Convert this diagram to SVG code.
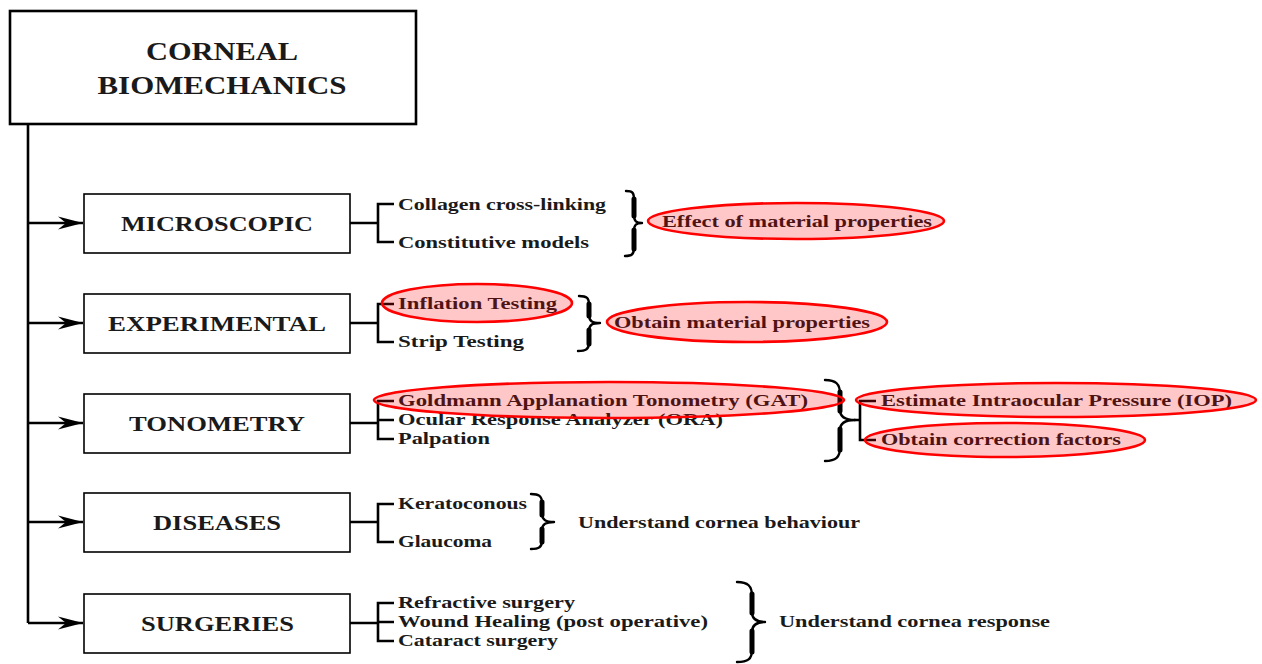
<svg xmlns="http://www.w3.org/2000/svg" width="1262" height="664" viewBox="0 0 1262 664">
<defs>
<style>
.box{fill:#fff;stroke:#000;stroke-width:1.6}
.main{fill:#fff;stroke:#000;stroke-width:2.6}
.ln{fill:none;stroke:#000;stroke-width:2.6}
.br{fill:none;stroke:#000;stroke-width:2.6}
.brace{fill:none;stroke:#000;stroke-width:2.4;stroke-linecap:round;stroke-linejoin:round}
.stem{fill:none;stroke:#000;stroke-width:5;stroke-linecap:round}
.t{font-family:"Liberation Serif","Times New Roman",serif;font-weight:bold;fill:#1a1a1a}
.h1{font-size:25px}
.h2{font-size:20px}
.it{font-size:17px}
.el{fill:rgba(255,0,0,0.22);stroke:#f00;stroke-width:2.6}
</style>
<marker id="arr" markerUnits="userSpaceOnUse" markerWidth="26" markerHeight="16" refX="25" refY="7" orient="auto">
<path d="M0,0.5 L25,7 L0,13.5 L8,7 Z" fill="#000"/>
</marker>
</defs>

<g id="connectors">
<path class="ln" d="M28,124 V623"/>
<path class="ln" d="M28,223 H83" marker-end="url(#arr)"/>
<path class="ln" d="M28,323 H83" marker-end="url(#arr)"/>
<path class="ln" d="M28,423 H83" marker-end="url(#arr)"/>
<path class="ln" d="M28,522 H83" marker-end="url(#arr)"/>
<path class="ln" d="M28,623 H83" marker-end="url(#arr)"/>
<!-- item brackets -->
<path class="br" d="M350,223 H378 M394,204 H378 V242 H394"/>
<path class="br" d="M350,323 H378 M394,304 H378 V342 H394"/>
<path class="br" d="M350,423 H378 M394,401 H378 V439 H394 M378,420 H394"/>
<path class="br" d="M350,522 H378 M394,504 H378 V542 H394"/>
<path class="br" d="M350,623 H378 M394,603 H378 V641 H394 M378,622 H394"/>
<path class="br" d="M854,420 H860 M876,401 H860 V440 H876"/>
<!-- braces -->
<path class="brace" d="M626,191 C633,191 634,193 634,200 L634,215 C634,221 636,223 642,223 C636,223 634,225 634,231 L634,248 C634,254 632,256 625,256"/>
<path class="stem" d="M634,199 V216 M634,230 V249"/>
<path class="brace" d="M579,296 C587,296 589,298 589,305 L589,315 C589,321 592,323 600,323 C592,323 589,325 589,331 L589,343 C589,349 586,351 578,351"/>
<path class="stem" d="M589,304 V316 M589,330 V344"/>
<path class="brace" d="M825,380 C836,380 840,384 840,394 L840,410 C840,417 845,420 855,420 C845,420 840,423 840,430 L840,448 C840,457 836,461 825,461"/>
<path class="stem" d="M840,392 V411 M840,429 V450"/>
<path class="brace" d="M531,494 C539,494 542,496 542,503 L542,514 C542,520 546,522 554,522 C546,522 542,524 542,530 L542,541 C542,547 539,549 531,549"/>
<path class="stem" d="M542,502 V515 M542,529 V542"/>
<path class="brace" d="M737,582 C748,582 752,586 752,596 L752,612 C752,619 756,622 765,622 C756,622 752,625 752,632 L752,650 C752,659 748,662 737,662"/>
<path class="stem" d="M752,594 V613 M752,631 V652"/>
</g>

<g id="root">
<rect class="main" x="10" y="11" width="406" height="113"/>
<text class="t h1" x="222" y="60" text-anchor="middle" textLength="152" lengthAdjust="spacingAndGlyphs">CORNEAL</text>
<text class="t h1" x="222" y="94" text-anchor="middle" textLength="249" lengthAdjust="spacingAndGlyphs">BIOMECHANICS</text>
</g>

<g id="microscopic">
<rect class="box" x="84" y="194" width="266" height="59"/>
<text class="t h2" x="121" y="231" textLength="192" lengthAdjust="spacingAndGlyphs">MICROSCOPIC</text>
<text class="t it" x="398" y="210" textLength="208" lengthAdjust="spacingAndGlyphs">Collagen cross-linking</text>
<text class="t it" x="398" y="248" textLength="191" lengthAdjust="spacingAndGlyphs">Constitutive models</text>
<text class="t it" x="662" y="227" textLength="270" lengthAdjust="spacingAndGlyphs">Effect of material properties</text>
<ellipse class="el" cx="796" cy="221" rx="148" ry="18"/>
</g>

<g id="experimental">
<rect class="box" x="84" y="294" width="266" height="59"/>
<text class="t h2" x="108" y="331" textLength="218" lengthAdjust="spacingAndGlyphs">EXPERIMENTAL</text>
<text class="t it" x="398" y="309" textLength="159" lengthAdjust="spacingAndGlyphs">Inflation Testing</text>
<text class="t it" x="398" y="347" textLength="126" lengthAdjust="spacingAndGlyphs">Strip Testing</text>
<ellipse class="el" cx="477" cy="303" rx="95" ry="19"/>
<text class="t it" x="614" y="328" textLength="256" lengthAdjust="spacingAndGlyphs">Obtain material properties</text>
<ellipse class="el" cx="747" cy="322" rx="140" ry="20"/>
</g>

<g id="tonometry">
<rect class="box" x="84" y="394" width="266" height="59"/>
<text class="t h2" x="129" y="431" textLength="176" lengthAdjust="spacingAndGlyphs">TONOMETRY</text>
<text class="t it" x="398" y="406" textLength="410" lengthAdjust="spacingAndGlyphs">Goldmann Applanation Tonometry (GAT)</text>
<text class="t it" x="398" y="425" textLength="325" lengthAdjust="spacingAndGlyphs">Ocular Response Analyzer (ORA)</text>
<text class="t it" x="398" y="444" textLength="92" lengthAdjust="spacingAndGlyphs">Palpation</text>
<ellipse class="el" cx="609" cy="400" rx="235" ry="18"/>
<text class="t it" x="881" y="406" textLength="351" lengthAdjust="spacingAndGlyphs">Estimate Intraocular Pressure (IOP)</text>
<ellipse class="el" cx="1056" cy="400" rx="200" ry="17"/>
<text class="t it" x="881" y="445" textLength="240" lengthAdjust="spacingAndGlyphs">Obtain correction factors</text>
<ellipse class="el" cx="1005" cy="440" rx="140" ry="17"/>
</g>

<g id="diseases">
<rect class="box" x="84" y="493" width="266" height="59"/>
<text class="t h2" x="153" y="530" textLength="128" lengthAdjust="spacingAndGlyphs">DISEASES</text>
<text class="t it" x="398" y="509" textLength="129" lengthAdjust="spacingAndGlyphs">Keratoconous</text>
<text class="t it" x="398" y="547" textLength="94" lengthAdjust="spacingAndGlyphs">Glaucoma</text>
<text class="t it" x="578" y="528" textLength="282" lengthAdjust="spacingAndGlyphs">Understand cornea behaviour</text>
</g>

<g id="surgeries">
<rect class="box" x="84" y="594" width="266" height="59"/>
<text class="t h2" x="141" y="631" textLength="153" lengthAdjust="spacingAndGlyphs">SURGERIES</text>
<text class="t it" x="398" y="608" textLength="177" lengthAdjust="spacingAndGlyphs">Refractive surgery</text>
<text class="t it" x="398" y="627" textLength="310" lengthAdjust="spacingAndGlyphs">Wound Healing (post operative)</text>
<text class="t it" x="398" y="646" textLength="160" lengthAdjust="spacingAndGlyphs">Cataract surgery</text>
<text class="t it" x="779" y="627" textLength="271" lengthAdjust="spacingAndGlyphs">Understand cornea response</text>
</g>
</svg>
